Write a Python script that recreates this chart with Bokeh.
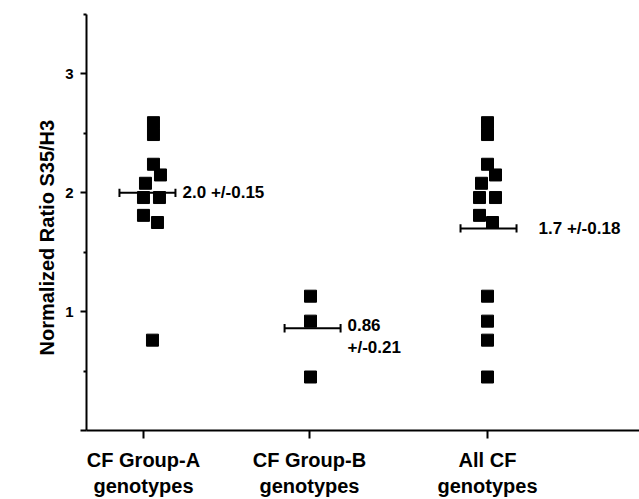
from bokeh.plotting import figure
from bokeh.models import Range1d, FixedTicker, Title, LinearAxis
from bokeh.embed import file_html
from bokeh.resources import INLINE
from bokeh.core.properties import value

# ---------------- data ----------------
group_labels = ["CF Group-A\ngenotypes", "CF Group-B\ngenotypes", "All CF\ngenotypes"]
group_a = [2.59, 2.49, 2.24, 2.15, 2.08, 1.96, 1.96, 1.81, 1.75, 0.76]
group_b = [1.13, 0.92, 0.45]
all_cf = [2.59, 2.49, 2.24, 2.15, 2.08, 1.96, 1.96, 1.81, 1.75, 1.13, 0.92, 0.76, 0.45]
means = [2.0, 0.86, 1.7]
mean_text = ["2.0", "0.86", "1.7"]
sem_text = ["+/-0.15", "+/-0.21", "+/-0.18"]
y_ticks = [0, 1, 2, 3]
y_minor = [0.5, 1.5, 2.5, 3.5]
y_label = "Normalized Ratio S35/H3"

# ---------------- layout (x positions in axis units, px offsets) ----------------
PX = 1 / 172.0                      # one pixel in x units
group_x = [1.0, 1.965, 3.0]         # tick positions
col_x = [1.058, 1.971, 3.0]         # centre of each point column
a_jit = [0, 0, 0, 7, -8, -10, 6, -10, 4, -1]
b_jit = [0, 0, 0]
all_jit = [0, 0, 0, 8, -6, -8, 8, -8, 5, 0, 0, 0, 0]
bar_x = [1.023, 1.983, 3.006]
bar_half = 28 * PX
label_x = [1.227, 2.186, 3.297]

FONT = value("Liberation Sans")

p = figure(width=639, height=499, output_backend="svg", toolbar_location=None,
           x_range=Range1d(1 - 57 * PX, 3 + 152 * PX), y_range=Range1d(0, 3.5),
           min_border_left=86, min_border_right=0, min_border_top=14, min_border_bottom=69)
p.outline_line_color = None
p.grid.visible = False
p.background_fill_color = "white"
p.border_fill_color = "white"

# points
for vals, jit, cx in [(group_a, a_jit, col_x[0]), (group_b, b_jit, col_x[1]), (all_cf, all_jit, col_x[2])]:
    xs = [cx + j * PX for j in jit]
    p.scatter(xs, vals, marker="square", size=12, color="black")

# mean bars
bx0 = [b - bar_half for b in bar_x]
bx1 = [b + bar_half for b in bar_x]
p.segment(bx0, means, bx1, means, line_color="black", line_width=2)
cap = 0.035
p.segment(bx0, [m - cap for m in means], bx0, [m + cap for m in means], line_color="black", line_width=2)
p.segment(bx1, [m - cap for m in means], bx1, [m + cap for m in means], line_color="black", line_width=2)

# mean labels
single = [0, 2]
p.text([label_x[i] for i in single], [means[i] for i in single],
       text=[mean_text[i] + " " + sem_text[i] for i in single],
       text_font=FONT, text_font_style="bold", text_font_size="17px",
       text_align="left", text_baseline="middle", text_color="black")
p.text([label_x[1]], [means[1]], text=[mean_text[1]], y_offset=-3,
       text_font=FONT, text_font_style="bold", text_font_size="17px",
       text_align="left", text_baseline="middle", text_color="black")
p.text([label_x[1]], [means[1]], text=[sem_text[1]], y_offset=19,
       text_font=FONT, text_font_style="bold", text_font_size="17px",
       text_align="left", text_baseline="middle", text_color="black")

# x axis
xa = p.xaxis[0]
xa.ticker = FixedTicker(ticks=group_x, minor_ticks=[])
xa.major_label_overrides = {gx: lab for gx, lab in zip(group_x, group_labels)}
xa.major_label_text_font = "Liberation Sans"
xa.major_label_text_font_style = "bold"
xa.major_label_text_font_size = "20px"
xa.major_label_text_color = "black"
xa.major_label_standoff = 10
xa.major_tick_in = 0
xa.major_tick_out = 8
xa.axis_line_width = 2
xa.major_tick_line_width = 2
xa.axis_line_color = "black"
xa.major_tick_line_color = "black"

# y axis
ya = p.yaxis[0]
ya.ticker = FixedTicker(ticks=y_ticks, minor_ticks=y_minor)
ya.major_label_overrides = {0: ""}
ya.major_label_text_font = "Liberation Sans"
ya.major_label_text_font_style = "bold"
ya.major_label_text_font_size = "15px"
ya.major_label_text_color = "black"
ya.major_label_standoff = 7
ya.major_tick_in = 0
ya.major_tick_out = 6
ya.minor_tick_in = 0
ya.minor_tick_out = 3
ya.axis_line_width = 2
ya.major_tick_line_width = 2
ya.minor_tick_line_width = 2
ya.axis_line_color = "black"
ya.major_tick_line_color = "black"
ya.minor_tick_line_color = "black"

# empty spacer axis (no line, no ticks) to move the y title outward
spacer = LinearAxis(ticker=FixedTicker(ticks=[], minor_ticks=[]), axis_line_color=None,
                    major_tick_in=0, major_tick_out=24, minor_tick_in=0, minor_tick_out=0,
                    major_tick_line_color="white", minor_tick_line_color=None,
                    major_label_text_font_size="0px")
p.add_layout(spacer, "left")

# y-axis title as a left-side title, started near the bottom of the frame
p.add_layout(Title(text=y_label, align="left", offset=75, standoff=10,
                   text_font="Liberation Sans", text_font_style="bold",
                   text_font_size="20px", text_color="black"), "left")

open("out.html", "w").write(file_html(p, INLINE))
